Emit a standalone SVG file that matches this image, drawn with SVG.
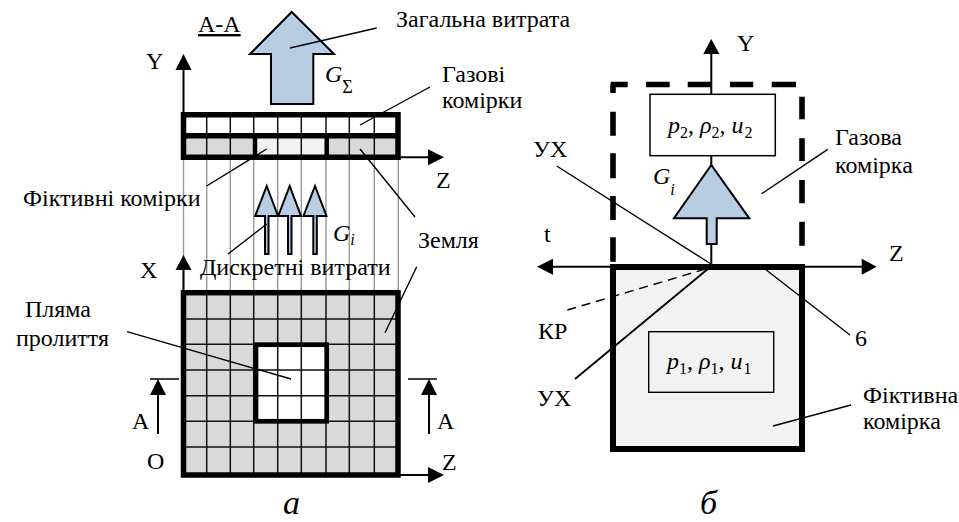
<svg xmlns="http://www.w3.org/2000/svg" width="959" height="522" viewBox="0 0 959 522">
<style>
text{font-family:"Liberation Serif","Times New Roman",serif;font-size:24px;fill:#000}
.i{font-style:italic}
.s{font-size:16px}
.n{font-style:normal}
.cap{font-size:34px;font-style:italic}
.ln{fill:none;stroke:#000;stroke-width:1.4}
.ax{fill:none;stroke:#000;stroke-width:2}
.hd{fill:#000;stroke:none}
.thick{fill:none;stroke:#000;stroke-width:5.5}
.gr{fill:none;stroke:#999;stroke-width:1.4}
.cell{fill:none;stroke:#111;stroke-width:1.5}
.blue{fill:#b8cce4;stroke:#000;stroke-width:2;stroke-linejoin:miter}
.box{fill:#fff;stroke:#000;stroke-width:1.5}
</style>
<rect width="959" height="522" fill="#fff"/>

<g id="guides">
<path class="gr" d="M183.5 160V290M206.7 160V290M230.3 160V290M253.7 160V290M277.7 160V290M301.3 160V290M326 160V290M349.3 160V290M374.3 160V290M398.3 160V290"/>
</g>

<g id="gas-cells">
<rect x="183.5" y="114.7" width="215" height="21" fill="#fff"/>
<path class="cell" d="M206.7 115V136M230.3 115V136M253.7 115V136M277.7 115V136M301.3 115V136M326 115V136M349.3 115V136M374.3 115V136"/>
</g>
<g id="dummy-cells">
<rect x="183.5" y="135.7" width="215" height="21.6" fill="#d9d9d9"/>
<rect x="255" y="135.7" width="71.7" height="21.6" fill="#f2f2f2"/>
<path class="cell" d="M206.7 136V157M230.3 136V157M277.7 136V157M301.3 136V157M349.3 136V157M374.3 136V157"/>
<path d="M255 135.7V157.3M326.7 135.7V157.3" fill="none" stroke="#000" stroke-width="4.5"/>
<path class="thick" d="M183.5 114.7H398V157.3H183.5ZM183.5 135.7H398"/>
</g>

<g id="ground">
<rect x="183.5" y="292.7" width="214.5" height="182.3" fill="#d9d9d9"/>
<rect x="256" y="344.7" width="70.7" height="76.6" fill="#fff"/>
<path class="cell" d="M206.7 293V475M230.3 293V475M253.7 293V475M277.7 293V475M301.3 293V475M326 293V475M349.3 293V475M374.3 293V475M184 319H398M184 344.3H398M184 370H398M184 395.7H398M184 421.3H398M184 447H398"/>
<rect x="183.5" y="292.7" width="214.5" height="182.3" class="thick"/>
</g>
<g id="spill-spot">
<rect x="256" y="344.7" width="70.7" height="76.6" fill="none" stroke="#000" stroke-width="4.7"/>
</g>

<g id="total-flow">
<path class="blue" d="M291.7 12L334 54H313.3V104H271V54H250Z"/>
</g>
<g id="discrete-flows">
<path class="blue" d="M266.7 186L278 216H268.5V254H265V216H255.2Z"/>
<path class="blue" d="M289.7 186L301 216H291.5V254H288V216H278.2Z"/>
<path class="blue" d="M315 186L326.5 216H316.8V254H313.3V216H303.5Z"/>
</g>

<g id="gas-cell-box">
<path d="M610.7 84.5H627.7M646 84.5H669.7M687.7 84.5H711.7M730 84.5H753.3M771.7 84.5H796M802 96.7V119.3M802 138.3V161M802 180V203.3M802 221.7V245.7M613 84.5V93M613 111.7V135.7M613 153.3V178.3M613 196V220M613 237.3V261.7" fill="none" stroke="#000" stroke-width="5.6"/>
</g>
<g id="dummy-cell-box">
<rect x="613" y="267" width="189" height="182" fill="#f2f2f2" stroke="#000" stroke-width="6"/>
</g>

<g id="connectors">
<path class="ax" d="M183.5 68V112M183.5 268V290M400 157.3H430M400 475H430"/>
<path class="hd" d="M183.5 54L191.5 70H175.5ZM183.5 255L191.5 270H175.5ZM444 157.3L428 149.3V165.3ZM444 475L428 467V483Z"/>
<path class="ln" d="M290 48L376.7 28M360 125L430 87M266.7 149L206.7 186M360 149L415 217M266.7 224L228 254M385 332.7L416.7 266.7M291 379L127 331.7"/>
<path class="ln" d="M150 379H179M408 379H437"/>
<path class="ax" d="M158 392V434M429 392V434"/>
<path class="hd" d="M158 379L166 395H150ZM429 379L437 395H421Z"/>

<path class="ax" d="M711.3 50V94M711.3 155V166M711.3 244V264"/>
<path class="hd" d="M711.3 39L719.3 54H703.3Z"/>
<path class="ax" d="M548 266.7H610M805 266.7H865"/>
<path class="hd" d="M537 266.7L553 258.7V274.7ZM876.7 266.7L861.7 258.7V274.7Z"/>
<path class="ln" d="M556.7 166L711 264M765 269L850 335M773 426L851 405M761.7 193.7L827.7 149.3"/>
<path d="M575 379L709 268" fill="none" stroke="#000" stroke-width="1.8"/>
<path d="M567.3 310L709 268" fill="none" stroke="#000" stroke-width="1.5" stroke-dasharray="9 6"/>
</g>

<g id="state-2">
<rect class="box" x="650" y="94.3" width="125.3" height="61.4"/>
<text x="668" y="133" class="i">p<tspan class="s n" dy="5">2</tspan><tspan class="n" dy="-5">, </tspan>ρ<tspan class="s n" dy="5">2</tspan><tspan class="n" dy="-5">, </tspan>u<tspan class="s n" dx="1" dy="5">2</tspan></text>
</g>
<g id="flow-arrow">
<path class="blue" d="M711.3 165L749.3 218.3H716.7V244H706.7V218.3H674Z"/>
</g>
<g id="state-1">
<rect x="648.7" y="331.7" width="125" height="60.6" fill="none" stroke="#000" stroke-width="1.4"/>
<text x="667" y="369" class="i">p<tspan class="s n" dy="5">1</tspan><tspan class="n" dy="-5">, </tspan>ρ<tspan class="s n" dy="5">1</tspan><tspan class="n" dy="-5">, </tspan>u<tspan class="s n" dx="1" dy="5">1</tspan></text>
</g>

<g id="labels">
<text x="198" y="32" text-decoration="underline">A-A</text>
<text x="396" y="27">Загальна витрата</text>
<text x="146" y="69">Y</text>
<text x="325" y="82" class="i">G<tspan class="n" dy="11" style="font-size:18px">Σ</tspan></text>
<text x="442" y="82">Газові</text>
<text x="442" y="108">комірки</text>
<text x="436" y="188">Z</text>
<text x="23" y="206">Фіктивні комірки</text>
<text x="333" y="241" class="i">G<tspan class="s" dy="4">i</tspan></text>
<text x="418" y="248">Земля</text>
<text x="200" y="275">Дискретні витрати</text>
<text x="140" y="278">X</text>
<text x="25" y="317">Пляма</text>
<text x="16" y="346">пролиття</text>
<text x="132" y="429">A</text>
<text x="437" y="429">A</text>
<text x="147" y="469">O</text>
<text x="442" y="470">Z</text>
<text x="283" y="514" class="cap">а</text>

<text x="737" y="51">Y</text>
<text x="835" y="145">Газова</text>
<text x="835" y="173">комірка</text>
<text x="533" y="157">УХ</text>
<text x="653" y="184" class="i">G<tspan class="s" dy="11">i</tspan></text>
<text x="544" y="242">t</text>
<text x="889" y="261">Z</text>
<text x="538" y="339">КР</text>
<text x="855" y="346">6</text>
<text x="537" y="406">УХ</text>
<text x="863" y="403">Фіктивна</text>
<text x="863" y="429">комірка</text>
<text x="700" y="514" class="cap">б</text>
</g>
</svg>
